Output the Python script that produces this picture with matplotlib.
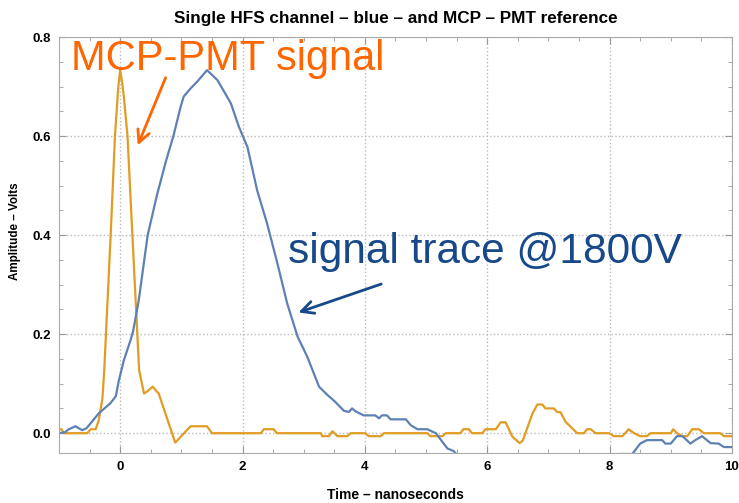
import matplotlib
matplotlib.use("Agg")
import matplotlib.pyplot as plt
from matplotlib.ticker import MultipleLocator

plt.rcParams['font.family'] = ['Liberation Sans', 'DejaVu Sans']

# HFS channel trace (blue)
blue_t = [-1.0, -0.9, -0.84, -0.73, -0.62, -0.55, -0.35, -0.155, -0.07, -0.02, 0.06, 0.17, 0.21,
          0.3, 0.45, 0.6, 0.75, 0.87, 0.99, 1.04, 1.15, 1.26, 1.42, 1.59, 1.81, 1.94, 2.08, 2.24,
          2.4, 2.57, 2.73, 2.9, 3.06, 3.25, 3.39, 3.5, 3.66, 3.74, 3.79, 3.85, 3.98, 4.17, 4.23,
          4.28, 4.36, 4.42, 4.67, 4.75, 4.86, 5.02, 5.16, 5.27, 5.35, 5.45, 5.55, 5.7, 8.0, 8.15,
          8.37, 8.5, 8.61, 8.86, 8.91, 9.0, 9.1, 9.19, 9.32, 9.4, 9.51, 9.65, 9.78, 9.87, 10.0]
blue_v = [0.0, 0.002, 0.008, 0.014, 0.006, 0.01, 0.04, 0.061, 0.075, 0.107, 0.147, 0.188, 0.205,
          0.265, 0.4, 0.48, 0.55, 0.6, 0.66, 0.68, 0.696, 0.71, 0.733, 0.713, 0.666, 0.619, 0.578, 0.49,
          0.424, 0.343, 0.262, 0.195, 0.154, 0.094, 0.077, 0.065, 0.045, 0.043, 0.05, 0.044, 0.036, 0.036, 0.03,
          0.036, 0.036, 0.028, 0.028, 0.016, 0.008, 0.008, 0.0, -0.018, -0.031, -0.036, -0.05, -0.08, -0.08, -0.042,
          -0.042, -0.021, -0.014, -0.014, -0.021, -0.021, -0.006, -0.006, -0.021, -0.014, -0.006, -0.02, -0.021, -0.028, -0.028]

# MCP-PMT reference (orange)
orange_t = [-1.0, -0.96, -0.92, -0.54, -0.48, -0.4, -0.35, -0.29, -0.26, -0.155, -0.085, -0.03, 0.0,
            0.03, 0.06, 0.12, 0.2, 0.31, 0.39, 0.45, 0.53, 0.63, 0.9, 1.15, 1.42, 1.5, 2.3, 2.35, 2.51,
            2.56, 3.28, 3.3, 3.41, 3.47, 3.55, 3.71, 3.77, 4.01, 4.06, 4.26, 4.31, 5.02, 5.07, 5.27,
            5.32, 5.56, 5.61, 5.7, 5.75, 5.92, 5.97, 6.14, 6.22, 6.3, 6.41, 6.53, 6.58, 6.74, 6.82,
            6.9, 6.95, 7.09, 7.14, 7.2, 7.28, 7.47, 7.58, 7.63, 7.69, 7.77, 7.99, 8.07, 8.21, 8.31,
            8.4, 8.5, 8.61, 8.67, 9.0, 9.04, 9.1, 9.19, 9.27, 9.35, 9.46, 9.54, 9.81, 9.87, 10.0]
orange_v = [0.008, 0.008, 0.0, 0.0, 0.008, 0.008, 0.026, 0.07, 0.127, 0.4, 0.6, 0.7, 0.733,
            0.71, 0.68, 0.6, 0.4, 0.127, 0.08, 0.085, 0.094, 0.08, -0.019, 0.014, 0.014, 0.0, 0.0, 0.008, 0.008,
            0.0, 0.0, -0.006, -0.006, 0.004, -0.006, -0.006, 0.0, 0.0, -0.006, -0.006, 0.0, 0.0, -0.006, -0.006,
            0.0, 0.0, 0.008, 0.008, 0.0, 0.0, 0.008, 0.008, 0.022, 0.022, -0.007, -0.02, -0.015, 0.04, 0.058,
            0.058, 0.05, 0.05, 0.043, 0.042, 0.023, 0.0, 0.0, 0.008, 0.008, 0.0, 0.0, -0.006, -0.006, 0.008,
            0.0, -0.006, -0.006, 0.0, 0.0, 0.008, 0.0, -0.006, -0.006, 0.008, 0.008, 0.0, 0.0, -0.006, -0.006]

fig = plt.figure(figsize=(7.39, 5.03), dpi=100)
ax = fig.add_axes([0.0798, 0.0994, 0.9107, 0.827])

ax.plot(orange_t, orange_v, color='#e19c24', lw=1.6)
ax.plot(blue_t, blue_v, color='#5e81b5', lw=1.6)

ax.set_xlim(-1, 10)
ax.set_ylim(-0.04, 0.8)

ax.xaxis.set_major_locator(MultipleLocator(2))
ax.xaxis.set_minor_locator(MultipleLocator(0.5))
ax.yaxis.set_major_locator(MultipleLocator(0.2))
ax.yaxis.set_minor_locator(MultipleLocator(0.05))
ax.tick_params(which='both', direction='in', top=True, right=True, color='#999999')
ax.tick_params(which='major', length=5, labelsize=9.5, pad=6)
ax.tick_params(which='minor', length=3)
for lab in ax.get_xticklabels() + ax.get_yticklabels():
    lab.set_fontweight('bold')
for sp in ax.spines.values():
    sp.set_color('#aaaaaa')
ax.grid(True, which='major', linestyle=':', color='#bbbbbb', lw=1)
ax.set_axisbelow(True)

ax.set_title('Single HFS channel – blue – and MCP – PMT reference', fontsize=12.3, fontweight='bold', pad=10)
ax.set_xlabel('Time – nanoseconds', fontsize=10, fontweight='bold')
ax.xaxis.set_label_coords(0.5, -0.101)
ax.xaxis.label.set_va('center')
ax.set_ylabel('Amplitude – Volts', fontsize=8.4, fontweight='bold')
ax.yaxis.set_label_coords(-0.065, 0.534)
ax.yaxis.label.set_va('center')

ax.text(-0.81, 0.733, 'MCP-PMT signal', color='#ff6600', fontsize=30, va='baseline', ha='left')
ax.annotate('', xy=(0.27, 0.576), xytext=(0.76, 0.723),
            arrowprops=dict(arrowstyle='->', color='#ff6600', lw=2, mutation_scale=22))
ax.text(2.74, 0.343, 'signal trace @1800V', color='#17498a', fontsize=30.5, va='baseline', ha='left')
ax.annotate('', xy=(2.87, 0.242), xytext=(4.31, 0.303),
            arrowprops=dict(arrowstyle='->', color='#17498a', lw=2, mutation_scale=22))

fig.savefig('out.png', dpi=100)
